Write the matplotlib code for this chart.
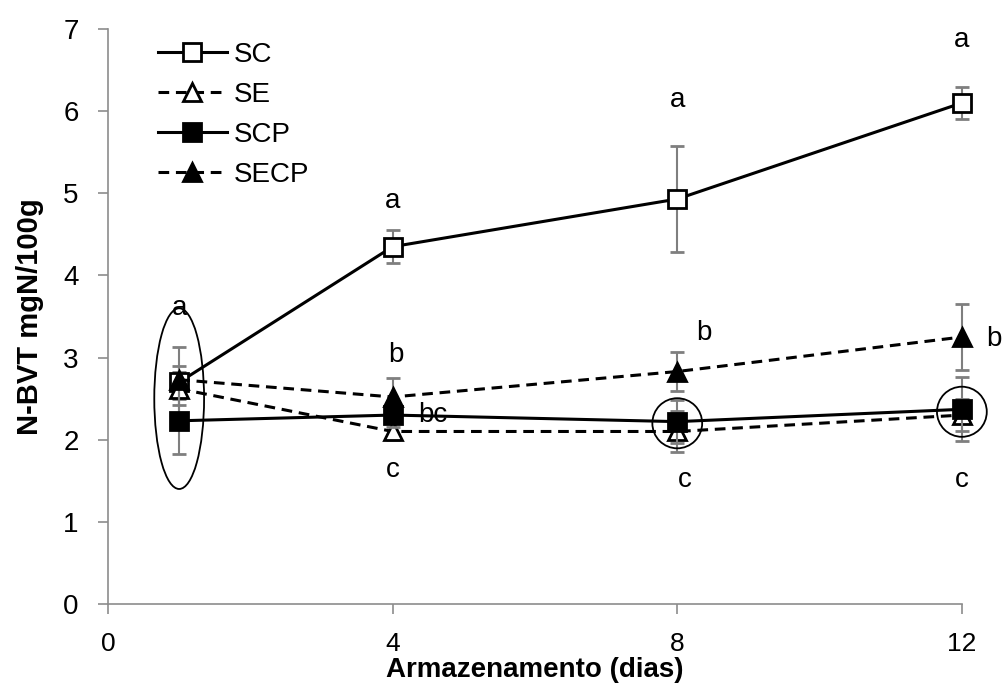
import matplotlib
matplotlib.use("Agg")
import matplotlib.pyplot as plt
from matplotlib.patches import Ellipse
from matplotlib.lines import Line2D

plt.rcParams['font.family'] = ['Liberation Sans', 'DejaVu Sans']

days = [1, 4, 8, 12]
sc = [2.70, 4.35, 4.93, 6.10]
sc_err = [0.20, 0.20, 0.64, 0.19]
se = [2.62, 2.10, 2.10, 2.30]
se_err = [0.20, 0.10, 0.25, 0.20]
scp = [2.23, 2.30, 2.22, 2.37]
scp_err = [0.40, 0.15, 0.26, 0.39]
secp = [2.73, 2.52, 2.83, 3.25]
secp_err = [0.40, 0.23, 0.24, 0.40]

letters = [
    (1, 3.60, "a"), (4, 4.90, "a"), (8, 6.14, "a"), (12, 6.87, "a"),
    (4.05, 3.03, "b"), (4.56, 2.30, "bc"), (4.0, 1.63, "c"),
    (8.38, 3.30, "b"), (8.1, 1.51, "c"),
    (12.45, 3.22, "b"), (12.0, 1.51, "c"),
]

fig = plt.figure(figsize=(10.03, 6.84), dpi=100)
ax = fig.add_axes([0.1077, 0.117, 0.8513, 0.8406])

ecol = '#7f7f7f'
dash = (0, (3.5, 2.2))
common = dict(markersize=13, markeredgewidth=2, markeredgecolor='black',
              ecolor=ecol, elinewidth=1.5, capsize=5, capthick=1.2, color='black', lw=2.2)

series = [
    (sc, sc_err, 's', 'white', '-', 'SC', 3),
    (se, se_err, '^', 'white', dash, 'SE', 3),
    (scp, scp_err, 's', 'black', '-', 'SCP', 4),
    (secp, secp_err, '^', 'black', dash, 'SECP', 4),
]
handles = []
for vals, errs, mk, fc, ls, lab, z in series:
    c = ax.errorbar(days, vals, yerr=errs, marker=mk, markerfacecolor=fc,
                    linestyle=ls, zorder=z, **common)
    for art in c.get_children():
        art.set_clip_on(False)
    handles.append(Line2D([], [], color='black', lw=2.2, linestyle=ls, marker=mk,
                          markerfacecolor=fc, markeredgecolor='black',
                          markeredgewidth=2, markersize=13, label=lab))

for x, y, t in letters:
    ax.text(x, y, t, fontsize=20, ha='center', va='center')

for (cx, cy, w, h) in [(1, 2.5, 0.70, 2.2), (8, 2.2, 0.70, 0.61), (12, 2.34, 0.70, 0.61)]:
    e = Ellipse((cx, cy), w, h, fill=False, edgecolor='black', lw=1.3, zorder=5)
    e.set_clip_on(False)
    ax.add_patch(e)

ax.set_xlim(0, 12)
ax.set_ylim(0, 7)
ax.set_xticks([0, 4, 8, 12])
ax.set_yticks(range(0, 8))
for s in ['top', 'right']:
    ax.spines[s].set_visible(False)
for s in ['left', 'bottom']:
    ax.spines[s].set_color('#8c8c8c')
    ax.spines[s].set_linewidth(1.2)
ax.tick_params(axis='both', direction='out', length=7, width=1.2, color='#8c8c8c', labelsize=20)
ax.tick_params(axis='y', pad=14)
ax.tick_params(axis='x', pad=13, labelsize=19)

ax.set_xlabel('Armazenamento (dias)', fontsize=20, fontweight='bold')
ax.xaxis.label.set_va('center')
ax.xaxis.set_label_coords(0.5, -0.115)
ax.set_ylabel('N-BVT mgN/100g', fontsize=21, fontweight='bold', labelpad=14)

ax.legend(handles=handles, loc='upper left', bbox_to_anchor=(0.045, 0.997),
          frameon=False, fontsize=20, handlelength=2.5, handletextpad=0.25,
          labelspacing=0.5, borderaxespad=0)

fig.savefig('out.png', dpi=100)
